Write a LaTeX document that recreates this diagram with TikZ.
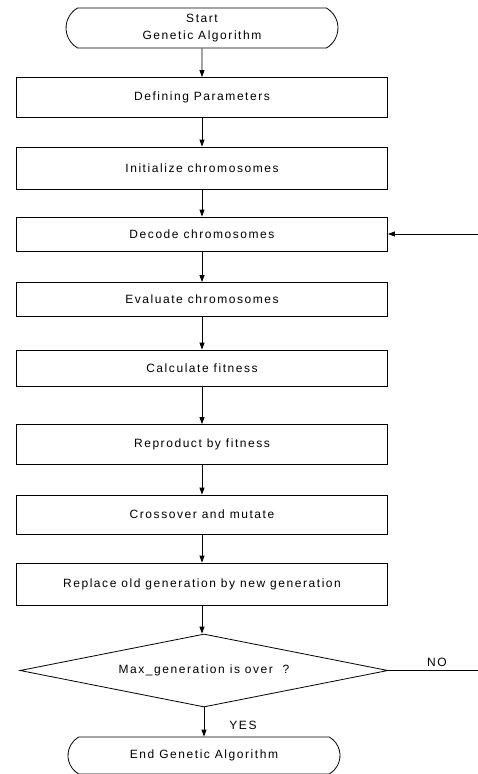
\documentclass[tikz,border=0pt]{standalone}
\usepackage{fontspec}
\setmainfont{Liberation Sans}[LetterSpace=13]
\usetikzlibrary{shapes.geometric}
\usetikzlibrary{shapes.misc}
\usetikzlibrary{arrows.meta}
\usetikzlibrary{positioning}

\tikzset{
  stepbox/.style = {
    rectangle, draw, line width = 0.8pt,
    minimum width = 371pt, minimum height = 40pt,
    inner sep = 0pt, font = \fontsize{12}{17}\selectfont,
  },
  termbox/.style = {
    rounded rectangle, rounded rectangle arc length = 120,
    draw, line width = 0.8pt, align = center,
    minimum width = 272pt, minimum height = 40pt,
    inner sep = 0pt, font = \fontsize{12}{17}\selectfont,
  },
  testbox/.style = {
    diamond, aspect = 5.04, draw, line width = 0.8pt,
    minimum width = 368pt, minimum height = 73pt,
    inner sep = 0pt, font = \fontsize{12}{17}\selectfont,
  },
  flowlbl/.style = {inner sep = 0pt, font = \fontsize{12}{17}\selectfont},
}

\begin{document}
\begin{tikzpicture}[x = 1pt, y = -1pt, >={Triangle[length = 7pt, width = 5pt]}]
  \useasboundingbox (0,0) rectangle (478,774);

  \node[termbox] (start) at (202,28) {Start\\Genetic Algorithm};
  \node[stepbox] (define) at (202,97.5) {Defining Parameters};
  \node[stepbox, minimum height = 42pt] (init) at (202,168) {Initialize chromosomes};
  \node[stepbox, minimum height = 34pt] (decode) at (202,234) {Decode chromosomes};
  \node[stepbox, minimum height = 34pt] (eval) at (202,299.5) {Evaluate chromosomes};
  \node[stepbox, minimum height = 36pt] (fit) at (202,368) {Calculate fitness};
  \node[stepbox] (repro) at (202,444.5) {Reproduct by fitness};
  \node[stepbox, minimum height = 39pt] (cross) at (202,514.5) {Crossover and mutate};
  \node[stepbox, minimum height = 42pt] (replace) at (202,584) {Replace old generation by new generation};
  \node[testbox] (maxgen) at (204,670.5) {Max\_generation is over\ \ ?};
  \node[termbox, minimum height = 37pt] (end) at (204,755.5) {End Genetic Algorithm};

  \coordinate (loopin) at (478,234);
  \coordinate (loopout) at (478,670.5);

  \begin{scope}[line width = 0.8pt, ->]
    \draw (start) -- (define);
    \draw (define) -- (init);
    \draw (init) -- (decode);
    \draw (decode) -- (eval);
    \draw (eval) -- (fit);
    \draw (fit) -- (repro);
    \draw (repro) -- (cross);
    \draw (cross) -- (replace);
    \draw (replace.south) -- (replace.south |- maxgen.north);
    \draw (maxgen.south) -- (maxgen.south |- end.north);
    \draw (loopin) -- (decode);
  \end{scope}
  \draw[line width = 0.8pt] (maxgen.east) -- (loopout);

  \node[flowlbl] (yes) at (243,725) {YES};
  \node[flowlbl] (no) at (437,662) {NO};
\end{tikzpicture}
\end{document}
